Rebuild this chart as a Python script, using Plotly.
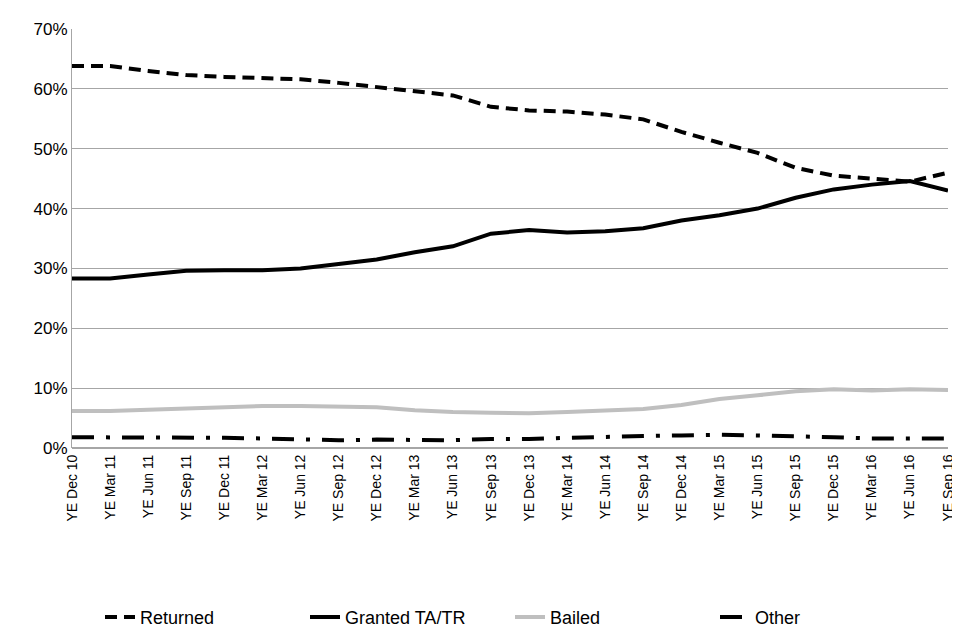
import plotly.graph_objects as go

periods = ["YE Dec 10", "YE Mar 11", "YE Jun 11", "YE Sep 11", "YE Dec 11", "YE Mar 12",
           "YE Jun 12", "YE Sep 12", "YE Dec 12", "YE Mar 13", "YE Jun 13", "YE Sep 13",
           "YE Dec 13", "YE Mar 14", "YE Jun 14", "YE Sep 14", "YE Dec 14", "YE Mar 15",
           "YE Jun 15", "YE Sep 15", "YE Dec 15", "YE Mar 16", "YE Jun 16", "YE Sep 16"]

returned = [63.8, 63.8, 63.0, 62.3, 62.0, 61.8, 61.6, 61.0, 60.3, 59.6, 58.9, 57.0,
            56.4, 56.2, 55.7, 54.9, 52.8, 51.0, 49.3, 46.8, 45.5, 45.0, 44.5, 46.0]
granted = [28.3, 28.3, 29.0, 29.6, 29.7, 29.7, 30.0, 30.7, 31.5, 32.7, 33.7, 35.8,
           36.4, 36.0, 36.2, 36.7, 38.0, 38.9, 40.0, 41.8, 43.2, 44.0, 44.6, 43.0]
bailed = [6.2, 6.2, 6.4, 6.6, 6.7, 7.0, 7.0, 6.9, 6.8, 6.3, 6.0, 5.9,
          5.8, 6.0, 6.2, 6.5, 7.2, 8.2, 8.8, 9.5, 9.8, 9.6, 9.8, 9.7]
other = [1.8, 1.8, 1.8, 1.8, 1.7, 1.6, 1.5, 1.3, 1.4, 1.3, 1.3, 1.5,
         1.5, 1.7, 1.9, 2.0, 2.1, 2.2, 2.1, 2.0, 1.8, 1.6, 1.6, 1.6]

series = [
    ("Returned", returned, "black", "12px,7px"),
    ("Granted TA/TR", granted, "black", "solid"),
    ("Bailed", bailed, "#bfbfbf", "solid"),
    ("Other", other, "black", "22px,12px,4px,12px"),
]

fig = go.Figure()
for name, vals, color, dash in series:
    fig.add_trace(go.Scatter(x=periods, y=[v / 100 for v in vals], name=name, mode="lines",
                             line=dict(color=color, width=4, dash=dash)))

fig.update_layout(
    width=960, height=640, plot_bgcolor="white", paper_bgcolor="white",
    margin=dict(l=64, r=14, t=19, b=167),
    font=dict(family="Liberation Sans, Arial", size=17, color="black"),
    legend=dict(orientation="h", x=0.5, xanchor="center", y=-0.36, yanchor="top",
                font=dict(size=18), entrywidth=160),
)
fig.update_xaxes(tickangle=-90, tickfont=dict(size=14), showgrid=False,
                 range=[0, len(periods) - 1], ticks="outside", ticklen=0)
fig.update_yaxes(range=[0, 0.7], dtick=0.1, tickformat=".0%", showgrid=True,
                 gridcolor="#a6a6a6", gridwidth=1, showline=True, linecolor="#a6a6a6",
                 zeroline=True, zerolinecolor="#a6a6a6")

fig.write_html("out.html")
